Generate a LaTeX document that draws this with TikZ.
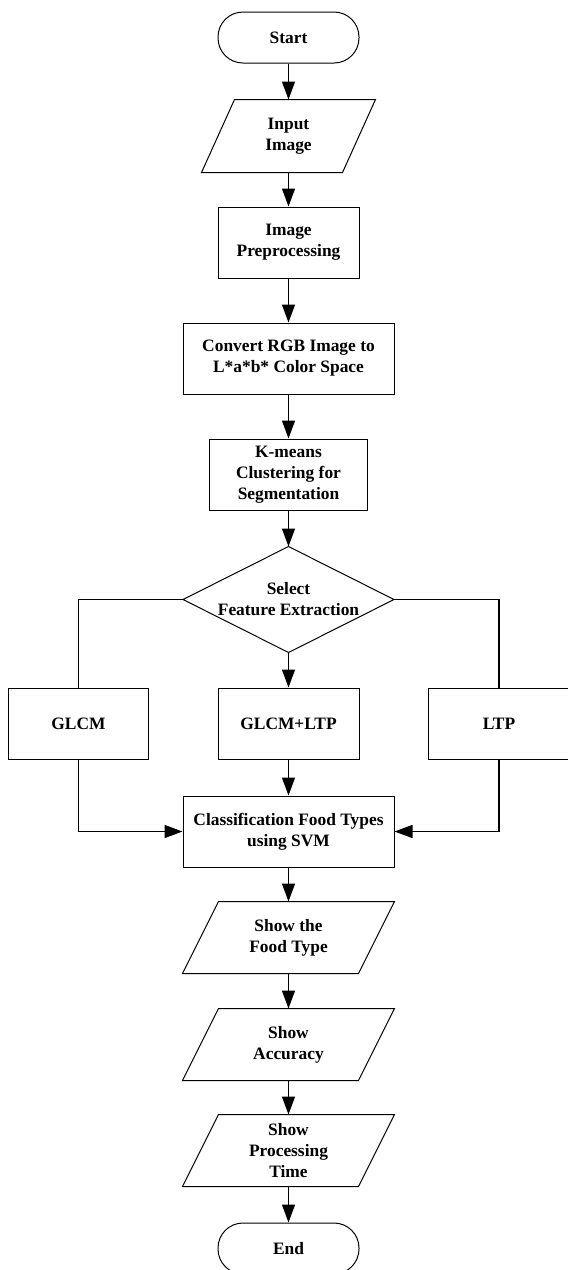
\documentclass[tikz,border=0pt]{standalone}
\usepackage{fontspec}
\setmainfont{Liberation Serif}
\usetikzlibrary{arrows.meta}
\tikzset{
  base/.style={font=\fontsize{17.4}{21}\selectfont\bfseries, align=center, inner sep=0pt, line width=1pt},
  proc/.style={base, draw, rectangle, minimum height=71pt},
  term/.style={base, draw, rectangle, rounded corners=25pt, minimum width=141pt, minimum height=51pt},
  io/.style={base, rectangle, minimum height=71pt},
  dec/.style={base, rectangle, minimum width=210pt, minimum height=105pt},
  shapeline/.style={line width=1pt, line join=miter},
  conn/.style={line width=1.1pt},
  arr/.style={line width=1.4pt, -{Triangle[length=18pt, width=13pt]}}
}
\begin{document}
\begin{tikzpicture}[x=1pt, y=-1pt]
\useasboundingbox[fill=white] (0,0) rectangle (568,1270);

\node[term] (start) at (288.5,37.5) {Start};
\node[io, minimum width=173pt, minimum height=72pt] (input) at (288.5,136) {Input\\Image};
\node[proc, minimum width=141pt] (prep) at (288.5,242.5) {Image\\Preprocessing};
\node[proc, minimum width=211pt] (conv) at (288.5,358.5) {Convert RGB Image to\\L*a*b* Color Space};
\node[proc, minimum width=158pt] (kmeans) at (288.5,474.5) {K-means\\Clustering for\\Segmentation};
\node[dec] (sel) at (288.5,599.5) {Select\\Feature Extraction};
\node[proc, minimum width=140pt] (glcm) at (78.5,723.5) {GLCM};
\node[proc, minimum width=141pt] (both) at (288.5,723.5) {GLCM+LTP};
\node[proc, minimum width=141pt] (ltp) at (499,723.5) {LTP};
\node[proc, minimum width=211pt] (cls) at (288.5,831.5) {Classification Food Types\\using SVM};
\node[io, minimum width=211pt] (food) at (288.5,937.5) {Show the\\Food Type};
\node[io, minimum width=211pt] (acc) at (288.5,1044.5) {Show\\Accuracy};
\node[io, minimum width=211pt] (time) at (288.5,1150.5) {Show\\Processing\\Time};
\node[term] (end) at (288.5,1248.5) {End};

% custom outlines
\draw[shapeline] ([xshift=33pt]input.north west) -- (input.north east) -- ([xshift=-33pt]input.south east) -- (input.south west) -- cycle;
\foreach \n in {food,acc,time}{
  \draw[shapeline] ([xshift=36pt]\n.north west) -- (\n.north east) -- ([xshift=-36pt]\n.south east) -- (\n.south west) -- cycle;
}
\draw[shapeline] (sel.north) -- (sel.east) -- (sel.south) -- (sel.west) -- cycle;

% connectors
\draw[arr] (start) -- (input);
\draw[arr] (input) -- (prep);
\draw[arr] (prep) -- (conv);
\draw[arr] (conv) -- (kmeans);
\draw[arr] (kmeans) -- (sel.north);
\draw[arr] (sel.south) -- (both);
\draw[conn] (sel.west) -| (glcm.north);
\draw[conn] (sel.east) -| (ltp.north);
\draw[arr] (both) -- (cls);
\draw[arr] (glcm.south) |- (cls.west);
\draw[arr] (ltp.south) |- (cls.east);
\draw[arr] (cls) -- (food.north);
\draw[arr] (food.south) -- (acc.north);
\draw[arr] (acc.south) -- (time.north);
\draw[arr] (time.south) -- (end);
\end{tikzpicture}
\end{document}
